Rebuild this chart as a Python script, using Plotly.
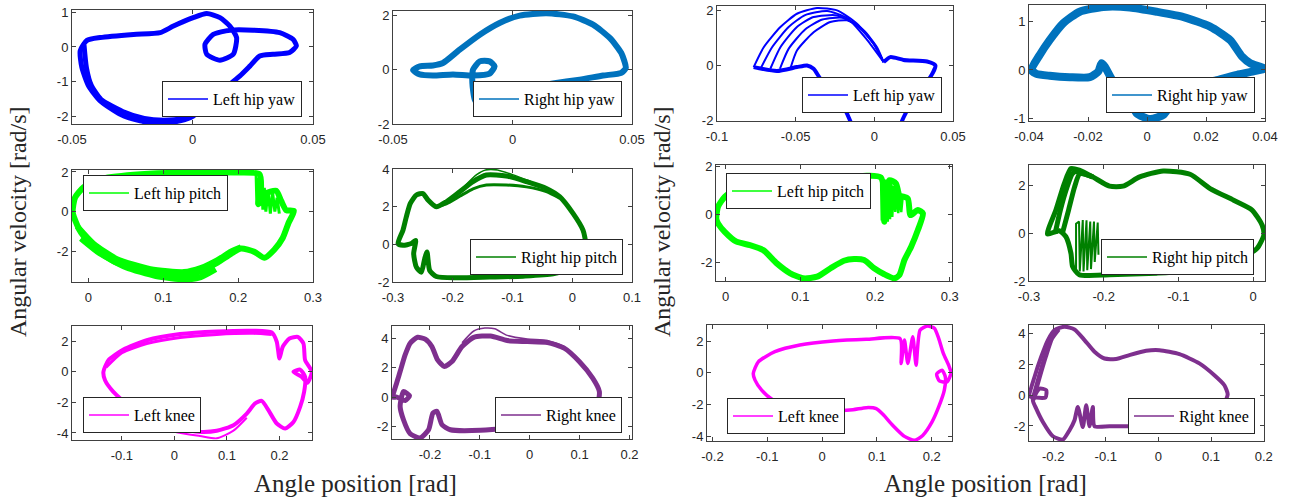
import plotly.graph_objects as go

W, H = 1290, 500

# ---------------- data ----------------
# Left group
LHY_X = [-0.0466,-0.0438,-0.0383,-0.0245,-0.0134,-0.0079,0.0003,0.0059,0.0114,0.0155,0.0183,0.0169,0.0114,0.0059,0.0052,0.0086,0.0155,0.0252,0.0362,0.0417,0.0431,0.0403,0.0334,0.0279,0.0238,0.0197,0.0155,0.0114,0.0059,0.0003,-0.0052,-0.0134,-0.0217,-0.0300,-0.0383,-0.0431,-0.0459,-0.0466]
LHY_Y = [-0.11,0.19,0.27,0.36,0.41,0.60,0.84,0.96,0.84,0.60,0.27,-0.21,-0.38,-0.21,0.08,0.36,0.48,0.48,0.41,0.22,0.03,-0.16,-0.21,-0.26,-0.55,-0.83,-1.07,-1.31,-1.65,-1.98,-2.12,-2.20,-2.12,-1.93,-1.55,-1.12,-0.59,-0.11]
LHY2_X = [-0.0450,-0.0440,-0.0420,-0.0380,-0.0290,-0.0200,-0.0120,-0.0040,0.0020]
LHY2_Y = [0.05,-0.60,-1.10,-1.50,-1.85,-2.05,-2.10,-2.05,-1.90]

RHY_X = [-0.0291,-0.0221,-0.0137,-0.0054,0.0030,0.0142,0.0253,0.0337,0.0407,0.0455,0.0474,0.0455,0.0379,0.0281,0.0169,0.0058,-0.0026,-0.0096,-0.0137,-0.0158,-0.0168,-0.0165,-0.0137,-0.0096,-0.0075,-0.0096,-0.0165,-0.0249,-0.0333,-0.0388,-0.0416,-0.0388,-0.0333,-0.0291]
RHY_Y = [0.24,0.73,1.28,1.71,1.98,2.07,1.95,1.65,1.16,0.61,0.06,-0.12,-0.22,-0.37,-0.51,-0.67,-0.83,-1.04,-1.34,-1.10,-0.49,0.0,0.30,0.30,0.12,-0.15,-0.22,-0.18,-0.22,-0.18,-0.02,0.12,0.15,0.24]

LHP_X = [-0.0210,-0.0179,-0.0067,0.0157,0.0605,0.1276,0.1948,0.2284,0.2306,0.2270,0.2351,0.2508,0.2575,0.2642,0.2745,0.2674,0.2597,0.2485,0.2351,0.2217,0.2038,0.1903,0.1724,0.1500,0.1276,0.0828,0.0381,0.0067,-0.0112,-0.0210]
LHP_Y = [-0.05,0.71,1.22,1.64,1.86,1.97,1.97,1.89,1.22,0.37,0.88,1.05,0.54,0.07,0.03,-0.56,-1.32,-1.91,-2.33,-2.03,-1.86,-2.13,-2.58,-3.00,-3.26,-3.09,-2.58,-1.82,-0.98,-0.05]
LHP2_X = [-0.0150,0.0067,0.0381,0.0828,0.1276,0.1500,0.1724,0.1903,0.2038]
LHP2_Y = [-0.75,-1.62,-2.40,-2.90,-3.05,-2.85,-2.45,-2.02,-1.80]
LHP3_X = [-0.0100,0.0150,0.0500,0.0900,0.1300,0.1500,0.1700]
LHP3_Y = [-1.35,-2.10,-2.80,-3.25,-3.42,-3.30,-2.90]
LHPJ_X = [0.2240,0.2250,0.2270,0.2290,0.2310,0.2330,0.2350,0.2370,0.2400,0.2430,0.2460,0.2490,0.2520,0.2550]
LHPJ_Y = [1.85,0.35,1.70,0.30,1.60,0.10,1.20,0.00,1.05,-0.10,1.00,0.00,0.70,-0.10]

RHP_X = [-0.2916,-0.2833,-0.2777,-0.2710,-0.2609,-0.2498,-0.2414,-0.2275,-0.2107,-0.1884,-0.1661,-0.1438,-0.1103,-0.0768,-0.0434,-0.0211,0.0013,0.0180,0.0225,0.0169,0.0013,-0.0322,-0.0824,-0.1382,-0.1940,-0.2275,-0.2386,-0.2431,-0.2470,-0.2526,-0.2609,-0.2654,-0.2621,-0.2693,-0.2833,-0.2916]
RHP_Y = [0.04,0.75,1.46,2.17,2.62,2.70,2.35,1.99,2.26,2.79,3.33,3.68,3.63,3.33,2.97,2.53,1.64,0.75,0.04,-0.68,-1.21,-1.57,-1.69,-1.74,-1.78,-1.71,-1.39,-0.41,-0.77,-1.48,-1.21,-0.50,0.21,0.04,-0.05,0.04]
RHP2_X = [-0.2275,-0.2107,-0.1884,-0.1661,-0.1438,-0.1103,-0.0768,-0.0434,-0.0211]
RHP2_Y = [1.99,2.15,2.55,2.95,3.15,3.15,3.05,2.80,2.45]
RHP3_X = [-0.1800,-0.1600,-0.1450,-0.1250,-0.1000,-0.0700]
RHP3_Y = [3.10,3.70,3.95,3.95,3.70,3.35]

LKN_X = [-0.1352,-0.1257,-0.0971,-0.0527,0.0108,0.0806,0.1505,0.1854,0.1949,0.2000,0.2063,0.2190,0.2349,0.2457,0.2489,0.2616,0.2533,0.2425,0.2267,0.2394,0.2489,0.2470,0.2394,0.2267,0.2108,0.1949,0.1790,0.1663,0.1537,0.1378,0.1124,0.0806,0.0489,0.0044,-0.0400,-0.0844,-0.1162,-0.1321,-0.1352]
LKN_Y = [0,0.76,1.46,2.07,2.47,2.64,2.69,2.58,1.97,0.87,1.64,2.18,2.29,1.86,0.76,0,-0.72,-0.33,0,0.15,-0.33,-1.31,-2.29,-3.28,-3.71,-3.38,-2.51,-1.90,-2.07,-2.73,-3.49,-3.86,-3.93,-3.71,-3.17,-2.29,-1.31,-0.55,0]
LKN2_X = [-0.1300,-0.1000,-0.0527,0.0108,0.0806,0.1505,0.1854]
LKN2_Y = [0.30,1.25,1.85,2.25,2.45,2.52,2.45]
LKN3_X = [-0.0400,0.0044,0.0489,0.0806,0.1124,0.1378]
LKN3_Y = [-3.35,-3.95,-4.20,-4.35,-3.85,-3.00]

RKN_X = [-0.2745,-0.2678,-0.2597,-0.2497,-0.2396,-0.2248,-0.2094,-0.1960,-0.1846,-0.1711,-0.1557,-0.1356,-0.1121,-0.0785,-0.0450,-0.0047,0.0356,0.0691,0.0993,0.1262,0.1396,0.1362,0.1195,0.0893,0.0221,-0.0450,-0.0987,-0.1591,-0.1758,-0.1859,-0.1940,-0.2027,-0.2195,-0.2396,-0.2530,-0.2597,-0.2530,-0.2409,-0.2497,-0.2664,-0.2745]
RKN_Y = [0,0.84,1.74,2.87,3.67,4.07,3.94,3.44,2.53,2.08,2.42,3.44,4.07,4.16,3.85,3.78,3.71,3.33,2.42,1.29,0.38,-0.41,-0.86,-1.31,-1.76,-2.10,-2.26,-2.22,-1.88,-0.97,-1.09,-2.22,-2.78,-2.49,-1.54,-0.63,0.38,0.09,-0.23,0,0]
RKN2_X = [-0.1356,-0.1121,-0.0900,-0.0700,-0.0450,-0.0047,0.0356,0.0691]
RKN2_Y = [3.70,4.50,4.70,4.65,4.20,3.95,3.85,3.45]

# Right group
LHYb_X = [-0.0767,-0.0619,-0.0492,-0.0428,-0.0386,-0.0343,-0.0280,-0.0216,-0.0153,-0.0110,0.0144,0.0176,0.0208,0.0250,0.0292,0.0356,0.0388,0.0335,0.0186,0.0102,0.0059]
LHYb_Y = [-0.06,-0.20,-0.06,0.0,-0.12,-0.48,-0.84,-1.27,-2.01,-2.70,-2.70,-2.01,-1.63,-1.14,-0.84,-0.42,0.0,0.14,0.20,0.30,0.12]
LHYa1_X = [-0.0767,-0.0703,-0.0597,-0.0492,-0.0364,-0.0237,-0.0110,-0.0004,0.0059]
LHYa1_Y = [-0.06,0.66,1.39,1.87,2.08,1.99,1.51,0.78,0.12]
LHYa2_X = [-0.0720,-0.0650,-0.0545,-0.0440,-0.0300,-0.0170,-0.0050,0.0059]
LHYa2_Y = [-0.08,0.66,1.39,1.82,1.97,1.70,0.95,0.12]
LHYa3_X = [-0.0661,-0.0597,-0.0492,-0.0386,-0.0237,-0.0110,-0.0004,0.0059]
LHYa3_Y = [-0.12,0.66,1.39,1.75,1.81,1.45,0.78,0.12]
LHYa4_X = [-0.0600,-0.0545,-0.0440,-0.0330,-0.0200,-0.0090,0.0005,0.0059]
LHYa4_Y = [-0.12,0.60,1.30,1.66,1.72,1.38,0.72,0.12]
LHYa5_X = [-0.0534,-0.0492,-0.0386,-0.0280,-0.0174,-0.0068,0.0017,0.0059]
LHYa5_Y = [-0.12,0.54,1.20,1.57,1.63,1.27,0.66,0.12]

RHYb_X = [-0.0392,-0.0364,-0.0330,-0.0284,-0.0228,-0.0148,-0.0058,0.0033,0.0124,0.0214,0.0282,0.0322,0.0350,0.0398,0.0361,0.0305,0.0237,0.0158,0.0124,0.0090,0.0056,0.0010,-0.0035,-0.0058,-0.0080,-0.0114,-0.0143,-0.0154,-0.0165,-0.0194,-0.0262,-0.0330,-0.0375,-0.0392]
RHYb_Y = [0,0.31,0.62,0.97,1.21,1.31,1.30,1.21,1.10,0.90,0.62,0.28,0.14,0.03,-0.03,-0.10,-0.21,-0.31,-0.36,-0.62,-0.93,-1.02,-0.90,-0.62,-0.38,-0.24,0.07,0.14,-0.03,-0.15,-0.15,-0.12,-0.08,0]

LHPb_X = [-0.0126,-0.0103,-0.0013,0.0144,0.0414,0.0864,0.1448,0.2078,0.2123,0.2191,0.2281,0.2326,0.2438,0.2474,0.2573,0.2641,0.2573,0.2483,0.2393,0.2326,0.2258,0.2123,0.1988,0.1853,0.1718,0.1583,0.1404,0.1224,0.1044,0.0864,0.0684,0.0504,0.0324,0.0144,-0.0013,-0.0103,-0.0126]
LHPb_Y = [-0.17,0.32,0.73,1.08,1.28,1.42,1.49,1.53,-0.30,1.42,1.28,0.80,0.66,-0.03,0.18,0.04,-0.65,-1.34,-1.89,-2.51,-2.65,-2.48,-2.23,-1.89,-1.85,-1.92,-2.23,-2.58,-2.65,-2.44,-2.03,-1.48,-1.27,-1.13,-0.72,-0.37,-0.17]
LHPbJ_X = [0.2080,0.2090,0.2100,0.2110,0.2125,0.2140,0.2155,0.2170,0.2185,0.2200,0.2215,0.2230,0.2250,0.2270,0.2290,0.2310,0.2330,0.2350,0.2370]
LHPbJ_Y = [1.50,-0.25,1.50,-0.30,1.45,-0.25,1.45,-0.30,1.40,-0.20,1.35,-0.10,1.20,0.10,1.00,0.05,0.85,0.10,0.75]

RHPb_X = [-0.2753,-0.2640,-0.2528,-0.2438,-0.2326,-0.2146,-0.1922,-0.1742,-0.1518,-0.1203,-0.0844,-0.0575,-0.0260,-0.0013,0.0121,0.0144,0.0054,-0.0126,-0.0395,-0.0754,-0.1293,-0.1922,-0.2326,-0.2416,-0.2438,-0.2506,-0.2595,-0.2753]
RHPb_Y = [-0.03,0.98,2.09,2.72,2.65,2.37,1.98,1.98,2.37,2.62,2.48,1.88,1.39,0.98,0.35,-0.07,-0.63,-0.98,-1.32,-1.56,-1.67,-1.74,-1.74,-1.39,-0.84,-0.14,0.11,-0.03]
RHPb2_X = [-0.2650,-0.2580,-0.2490,-0.2420,-0.2380,-0.2146]
RHPb2_Y = [0.0,0.98,1.95,2.50,2.60,2.37]
RHPb3_X = [-0.2553,-0.2470,-0.2390,-0.2320,-0.2146]
RHPb3_Y = [0.0,0.98,1.95,2.50,2.37]
RHPbJ_X = [-0.2370,-0.2370,-0.2330,-0.2320,-0.2280,-0.2270,-0.2230,-0.2220,-0.2180,-0.2170,-0.2130,-0.2120,-0.2080,-0.2070]
RHPbJ_Y = [-1.70,0.40,0.50,-1.60,0.56,-1.60,0.55,-1.55,0.50,-1.50,0.50,-1.20,0.45,-0.90]

LKNb_X = [-0.1255,-0.1164,-0.0861,-0.0406,0.0200,0.0806,0.1424,0.1442,0.1503,0.1564,0.1655,0.1715,0.1788,0.1927,0.2048,0.2127,0.2212,0.2309,0.2352,0.2279,0.2139,0.2091,0.2188,0.2248,0.2230,0.2127,0.2006,0.1836,0.1685,0.1503,0.1291,0.1109,0.0988,0.0806,0.0564,0.0200,-0.0285,-0.0648,-0.0891,-0.1103,-0.1224,-0.1255]
LKNb_Y = [-0.04,0.69,1.33,1.75,2.00,2.11,2.15,0.59,2.06,0.59,2.27,0.48,2.69,2.95,2.80,2.17,1.22,0.48,0,-0.57,-0.51,-0.08,0.17,-0.25,-1.09,-2.15,-3.09,-3.94,-4.25,-4.00,-3.31,-2.61,-2.25,-2.19,-2.32,-2.40,-2.36,-2.15,-1.73,-1.09,-0.46,-0.04]

RKNb_X = [-0.2449,-0.2354,-0.2228,-0.2101,-0.1975,-0.1785,-0.1595,-0.1405,-0.1215,-0.1025,-0.0804,-0.0551,-0.0234,0.0019,0.0399,0.0778,0.1063,0.1253,0.1316,0.1253,0.1095,0.0715,0.0209,-0.0424,-0.0930,-0.1215,-0.1247,-0.1310,-0.1373,-0.1437,-0.1532,-0.1595,-0.1690,-0.1816,-0.2006,-0.2196,-0.2323,-0.2386,-0.2259,-0.2133,-0.2146,-0.2323,-0.2449]
RKNb_Y = [-0.07,1.20,2.50,3.59,4.24,4.46,4.28,3.59,2.83,2.39,2.35,2.61,2.89,2.93,2.67,2.07,1.30,0.65,0.07,-0.50,-0.87,-1.41,-1.85,-2.02,-2.02,-2.02,-0.76,-2.02,-0.65,-2.07,-0.76,-1.63,-2.28,-2.89,-2.67,-1.74,-0.87,-0.33,0.43,0.33,-0.15,-0.15,-0.07]
RKNb2_X = [-0.2386,-0.2280,-0.2150,-0.2030,-0.1900]
RKNb2_Y = [-0.30,1.00,2.50,3.70,4.30]

# Tick labels
TV_05 = [-0.05, 0, 0.05]; TT_05 = ["-0.05", "0", "0.05"]
TV_10_05 = [-0.1, -0.05, 0, 0.05]; TT_10_05 = ["-0.1", "-0.05", "0", "0.05"]
TV_04 = [-0.04, -0.02, 0, 0.02, 0.04]; TT_04 = ["-0.04", "-0.02", "0", "0.02", "0.04"]
TV_0_3 = [0, 0.1, 0.2, 0.3]; TT_0_3 = ["0", "0.1", "0.2", "0.3"]
TV_m3_1 = [-0.3, -0.2, -0.1, 0, 0.1]; TT_m3_1 = ["-0.3", "-0.2", "-0.1", "0", "0.1"]
TV_m3_0 = [-0.3, -0.2, -0.1, 0]; TT_m3_0 = ["-0.3", "-0.2", "-0.1", "0"]
TV_m2_2 = [-0.2, -0.1, 0, 0.1, 0.2]; TT_m2_2 = ["-0.2", "-0.1", "0", "0.1", "0.2"]
YV_1 = [-2, -1, 0, 1]; YT_1 = ["-2", "-1", "0", "1"]
YV_2 = [-2, 0, 2]; YT_2 = ["-2", "0", "2"]
YV_11 = [-1, 0, 1]; YT_11 = ["-1", "0", "1"]
YV_24 = [-2, 0, 2, 4]; YT_24 = ["-2", "0", "2", "4"]
YV_42 = [-4, -2, 0, 2]; YT_42 = ["-4", "-2", "0", "2"]

NAMES = ["Left hip yaw", "Right hip yaw", "Left hip pitch", "Right hip pitch", "Left knee", "Right knee"]
COLORS = ["#0000FF", "#0072BD", "#00FF00", "#008000", "#FF00FF", "#7E2F8E"]

# ---------------- panel definitions (positions in screen pixels) ----------------
S, L = "spline", "linear"
panels = [
    dict(n=0, box=(72, 313, 10, 124), xr=[-0.05, 0.05], yr=[-2.21, 1.06], xt=(TV_05, TT_05), yt=(YV_1, YT_1),
         strands=[(LHY_X, LHY_Y, 5, S), (LHY2_X, LHY2_Y, 5, S)], leg=(302, 117, "right", "bottom")),
    dict(n=1, box=(393, 632, 11, 124), xr=[-0.05, 0.05], yr=[-2.0, 2.15], xt=(TV_05, TT_05), yt=(YV_2, YT_2),
         strands=[(RHY_X, RHY_Y, 6, S)], leg=(622, 117, "right", "bottom")),
    dict(n=0, box=(717, 953, 6, 121), xr=[-0.1, 0.05], yr=[-2.01, 2.15], xt=(TV_10_05, TT_10_05), yt=(YV_2, YT_2),
         strands=[(LHYb_X, LHYb_Y, 4, S), (LHYa1_X, LHYa1_Y, 2, S), (LHYa2_X, LHYa2_Y, 2, S),
                  (LHYa3_X, LHYa3_Y, 2, S), (LHYa4_X, LHYa4_Y, 2, S), (LHYa5_X, LHYa5_Y, 2, S)],
         leg=(942, 113, "right", "bottom")),
    dict(n=1, box=(1029, 1265, 5, 121), xr=[-0.04, 0.04], yr=[-1.06, 1.35], xt=(TV_04, TT_04), yt=(YV_11, YT_11),
         strands=[(RHYb_X, RHYb_Y, 8, S)], leg=(1255, 113, "right", "bottom")),
    dict(n=2, box=(72, 313, 170, 282), xr=[-0.022, 0.3], yr=[-3.55, 2.1], xt=(TV_0_3, TT_0_3), yt=(YV_2, YT_2),
         strands=[(LHP_X, LHP_Y, 6, S), (LHP2_X, LHP2_Y, 6, S), (LHP3_X, LHP3_Y, 6, S), (LHPJ_X, LHPJ_Y, 3, L)],
         leg=(83, 175, "left", "top")),
    dict(n=3, box=(393, 632, 169, 282), xr=[-0.3, 0.1], yr=[-2.0, 4.0], xt=(TV_m3_1, TT_m3_1), yt=(YV_24, YT_24),
         strands=[(RHP_X, RHP_Y, 5, S), (RHP2_X, RHP2_Y, 3, S), (RHP3_X, RHP3_Y, 1.5, S)],
         leg=(623, 275, "right", "bottom")),
    dict(n=2, box=(716, 952, 165, 281), xr=[-0.013, 0.303], yr=[-2.76, 2.05], xt=(TV_0_3, TT_0_3), yt=(YV_2, YT_2),
         strands=[(LHPb_X, LHPb_Y, 6, S), (LHPbJ_X, LHPbJ_Y, 2.5, L)], leg=(726, 173, "left", "top")),
    dict(n=3, box=(1029, 1265, 165, 281), xr=[-0.3, 0.016], yr=[-2.0, 2.87], xt=(TV_m3_0, TT_m3_0), yt=(YV_2, YT_2),
         strands=[(RHPb_X, RHPb_Y, 5, S), (RHPb2_X, RHPb2_Y, 5, S), (RHPb3_X, RHPb3_Y, 5, S), (RHPbJ_X, RHPbJ_Y, 2, L)],
         leg=(1254, 275, "right", "bottom")),
    dict(n=4, box=(72, 312, 326, 440), xr=[-0.195, 0.262], yr=[-4.46, 3.0], xt=(TV_m2_2, TT_m2_2), yt=(YV_42, YT_42),
         strands=[(LKN_X, LKN_Y, 4, S), (LKN2_X, LKN2_Y, 3, S), (LKN3_X, LKN3_Y, 2, S)],
         leg=(83, 433, "left", "bottom")),
    dict(n=5, box=(392, 632, 326, 439), xr=[-0.276, 0.205], yr=[-2.85, 4.84], xt=(TV_m2_2, TT_m2_2), yt=(YV_24, YT_24),
         strands=[(RKN_X, RKN_Y, 5, S), (RKN2_X, RKN2_Y, 1.5, S)], leg=(622, 433, "right", "bottom")),
    dict(n=4, box=(707, 952, 325, 441), xr=[-0.21, 0.237], yr=[-4.29, 3.01], xt=(TV_m2_2, TT_m2_2), yt=(YV_42, YT_42),
         strands=[(LKNb_X, LKNb_Y, 3.5, S)], leg=(727, 434, "left", "bottom")),
    dict(n=5, box=(1029, 1264, 325, 441), xr=[-0.246, 0.2006], yr=[-2.98, 4.57], xt=(TV_m2_2, TT_m2_2), yt=(YV_24, YT_24),
         strands=[(RKNb_X, RKNb_Y, 4, S), (RKNb2_X, RKNb2_Y, 5, S)], leg=(1255, 434, "right", "bottom")),
]


def fx(px):
    return px / W


def fy(py):
    return 1 - py / H


AX_COLOR = "#404040"
TICK_FONT = dict(family="Liberation Sans, Arial, sans-serif", size=13, color="#262626")
SERIF = "Liberation Serif, DejaVu Serif, serif"

fig = go.Figure()
layout = {}
for i, p in enumerate(panels, start=1):
    sfx = "" if i == 1 else str(i)
    xa, ya, lg = "x" + sfx, "y" + sfx, "legend" + sfx
    color = COLORS[p["n"]]
    for xs, ys, w, shape in p["strands"]:
        line = dict(color=color, width=w, shape=shape)
        if shape == "spline":
            line["smoothing"] = 0.6
        fig.add_trace(go.Scatter(x=xs, y=ys, mode="lines", line=line, showlegend=False,
                                 xaxis=xa, yaxis=ya, hoverinfo="skip"))
    # legend entry (thin line like the reference)
    fig.add_trace(go.Scatter(x=[None], y=[None], mode="lines", line=dict(color=color, width=1.5),
                             name=NAMES[p["n"]], showlegend=True, legend=lg, xaxis=xa, yaxis=ya))
    x0, x1, y0, y1 = p["box"]
    common = dict(showline=True, mirror="ticks", linecolor=AX_COLOR, linewidth=1, ticks="inside",
                  ticklen=4, tickcolor=AX_COLOR, showgrid=False, zeroline=False, tickfont=TICK_FONT,
                  fixedrange=True, automargin=False)
    layout["xaxis" + sfx] = dict(domain=[fx(x0), fx(x1)], range=p["xr"], anchor=ya,
                                 tickvals=p["xt"][0], ticktext=p["xt"][1], ticklabelstandoff=3, **common)
    layout["yaxis" + sfx] = dict(domain=[fy(y1), fy(y0)], range=p["yr"], anchor=xa,
                                 tickvals=p["yt"][0], ticktext=p["yt"][1], **common)
    lx, ly, xanc, yanc = p["leg"]
    layout[lg] = dict(x=fx(lx), y=fy(ly), xanchor=xanc, yanchor=yanc, xref="paper", yref="paper",
                      bgcolor="white", bordercolor="#262626", borderwidth=1,
                      font=dict(family=SERIF, size=16, color="black"), itemwidth=40,
                      tracegroupgap=0)

fig.update_layout(**layout)
annots = [
    dict(text="Angular velocity [rad/s]", x=fx(18), y=fy(222), textangle=-90, size=24),
    dict(text="Angular velocity [rad/s]", x=fx(662), y=fy(222), textangle=-90, size=24),
    dict(text="Angle position [rad]", x=fx(355), y=fy(483), textangle=0, size=25),
    dict(text="Angle position [rad]", x=fx(985), y=fy(483), textangle=0, size=25),
]
fig.update_layout(
    template="none",
    width=W, height=H, margin=dict(l=0, r=0, t=0, b=0, pad=0, autoexpand=False),
    paper_bgcolor="white", plot_bgcolor="white",
    annotations=[dict(xref="paper", yref="paper", showarrow=False, xanchor="center", yanchor="middle",
                      text=a["text"], x=a["x"], y=a["y"], textangle=a["textangle"],
                      font=dict(family=SERIF, size=a["size"], color="#262626")) for a in annots],
)
fig.write_html("out.html", config={"displayModeBar": False},
               post_script="document.body.style.margin='0px';")
